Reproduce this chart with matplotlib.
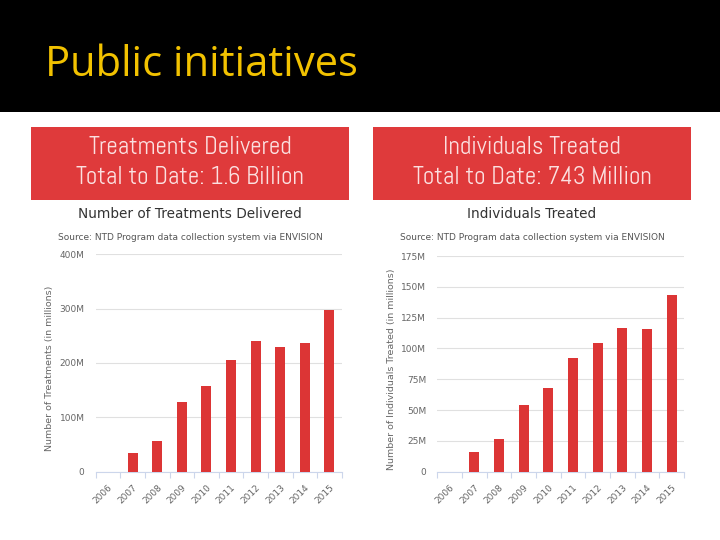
import matplotlib
matplotlib.use("Agg")
import matplotlib.pyplot as plt
from matplotlib.patches import Rectangle
from matplotlib import font_manager

years = ["2006", "2007", "2008", "2009", "2010", "2011", "2012", "2013", "2014", "2015"]
treatments = [0, 35, 57, 129, 158, 206, 241, 230, 237, 297]
individuals = [0, 16, 26.5, 54.4, 67.9, 92.5, 104.4, 116.9, 115.8, 143.4]

left_ticks = [0, 100, 200, 300, 400]
right_ticks = [0, 25, 50, 75, 100, 125, 150, 175]

available = {f.name for f in font_manager.fontManager.ttflist}
narrow = None
for cand in ["Abel", "Roboto Condensed", "Open Sans Condensed", "PT Sans Narrow",
             "Liberation Sans Narrow", "Arial Narrow", "Archivo Narrow", "Pathway Gothic One",
             "Oswald"]:
    if cand in available:
        narrow = cand
        break

W, H = 720, 540
fig = plt.figure(figsize=(7.2, 5.4), dpi=100)
fig.patch.set_facecolor("white")

def fx(x):
    return x / W

def fy(y):
    return (H - y) / H

fig.patches.append(Rectangle((0, fy(112)), 1, 1 - fy(112), transform=fig.transFigure,
                             facecolor="black", edgecolor="none", zorder=0))
fig.text(fx(45), fy(76), "Public initiatives", color="#f2c200", fontsize=30,
         family=["Open Sans", "DejaVu Sans"], va="baseline", ha="left")

RED = "#df3a3b"
BAR = "#dc3535"
HDR_TXT = "#fbe0e0"

panels = [
    dict(x0=31, x1=349, head1="Treatments Delivered", head2="Total to Date: 1.6 Billion",
         title="Number of Treatments Delivered", data=treatments, ticks=left_ticks,
         ylabel="Number of Treatments (in millions)", ax=(95.7, 341.7, 254.3, 471.7), ylx=50),
    dict(x0=373, x1=691, head1="Individuals Treated", head2="Total to Date: 743 Million",
         title="Individuals Treated", data=individuals, ticks=right_ticks,
         ylabel="Number of Individuals Treated (in millions)", ax=(437.3, 684, 256, 471.7), ylx=392),
]

if narrow:
    hdr_kw = dict(family=[narrow, "DejaVu Sans"], fontsize=18)
else:
    hdr_kw = dict(family=["DejaVu Sans"], fontsize=14)

for p in panels:
    fig.patches.append(Rectangle((fx(p["x0"]), fy(200)), fx(p["x1"] - p["x0"]), fy(127) - fy(200),
                                 transform=fig.transFigure, facecolor=RED, edgecolor="none"))
    cx = fx((p["x0"] + p["x1"]) / 2)
    fig.text(cx, fy(148), p["head1"], color=HDR_TXT, ha="center", va="center", **hdr_kw)
    fig.text(cx, fy(178), p["head2"], color=HDR_TXT, ha="center", va="center", **hdr_kw)
    fig.text(cx, fy(214), p["title"], color="#333333", fontsize=9.8, ha="center", va="center")
    fig.text(cx, fy(237.5), "Source: NTD Program data collection system via ENVISION",
             color="#555555", fontsize=6.5, ha="center", va="center")

    l, r, t, b = p["ax"]
    ax = fig.add_axes([fx(l), fy(b), fx(r - l), fy(t) - fy(b)])
    xs = list(range(len(years)))
    ax.bar(xs, p["data"], width=0.4, color=BAR, zorder=3)
    ax.set_xlim(-0.5, len(years) - 0.5)
    ax.set_ylim(0, p["ticks"][-1])
    ax.set_yticks(p["ticks"])
    ax.set_yticklabels(["0"] + [f"{v}M" for v in p["ticks"][1:]])
    ax.yaxis.grid(True, color="#e0e0e0", linewidth=0.8, zorder=0)
    ax.tick_params(axis="y", length=0, labelsize=6.5, labelcolor="#666666", pad=8)
    ax.set_xticks(xs)
    ax.set_xticklabels(years, rotation=45, ha="right", rotation_mode="anchor")
    ax.tick_params(axis="x", which="major", length=0, labelsize=6.5, labelcolor="#666666", pad=8)
    ax.set_xticks([i - 0.5 for i in range(len(years) + 1)], minor=True)
    ax.tick_params(axis="x", which="minor", length=4, color="#ccd6eb", width=0.8)
    for s in ["top", "right", "left"]:
        ax.spines[s].set_visible(False)
    ax.spines["bottom"].set_color("#ccd6eb")
    ax.set_facecolor("white")
    fig.text(fx(p["ylx"]), fy((t + b) / 2 + 5), p["ylabel"], rotation=90, color="#666666",
             fontsize=6.8, ha="center", va="center")

fig.savefig("out.png", dpi=100)
